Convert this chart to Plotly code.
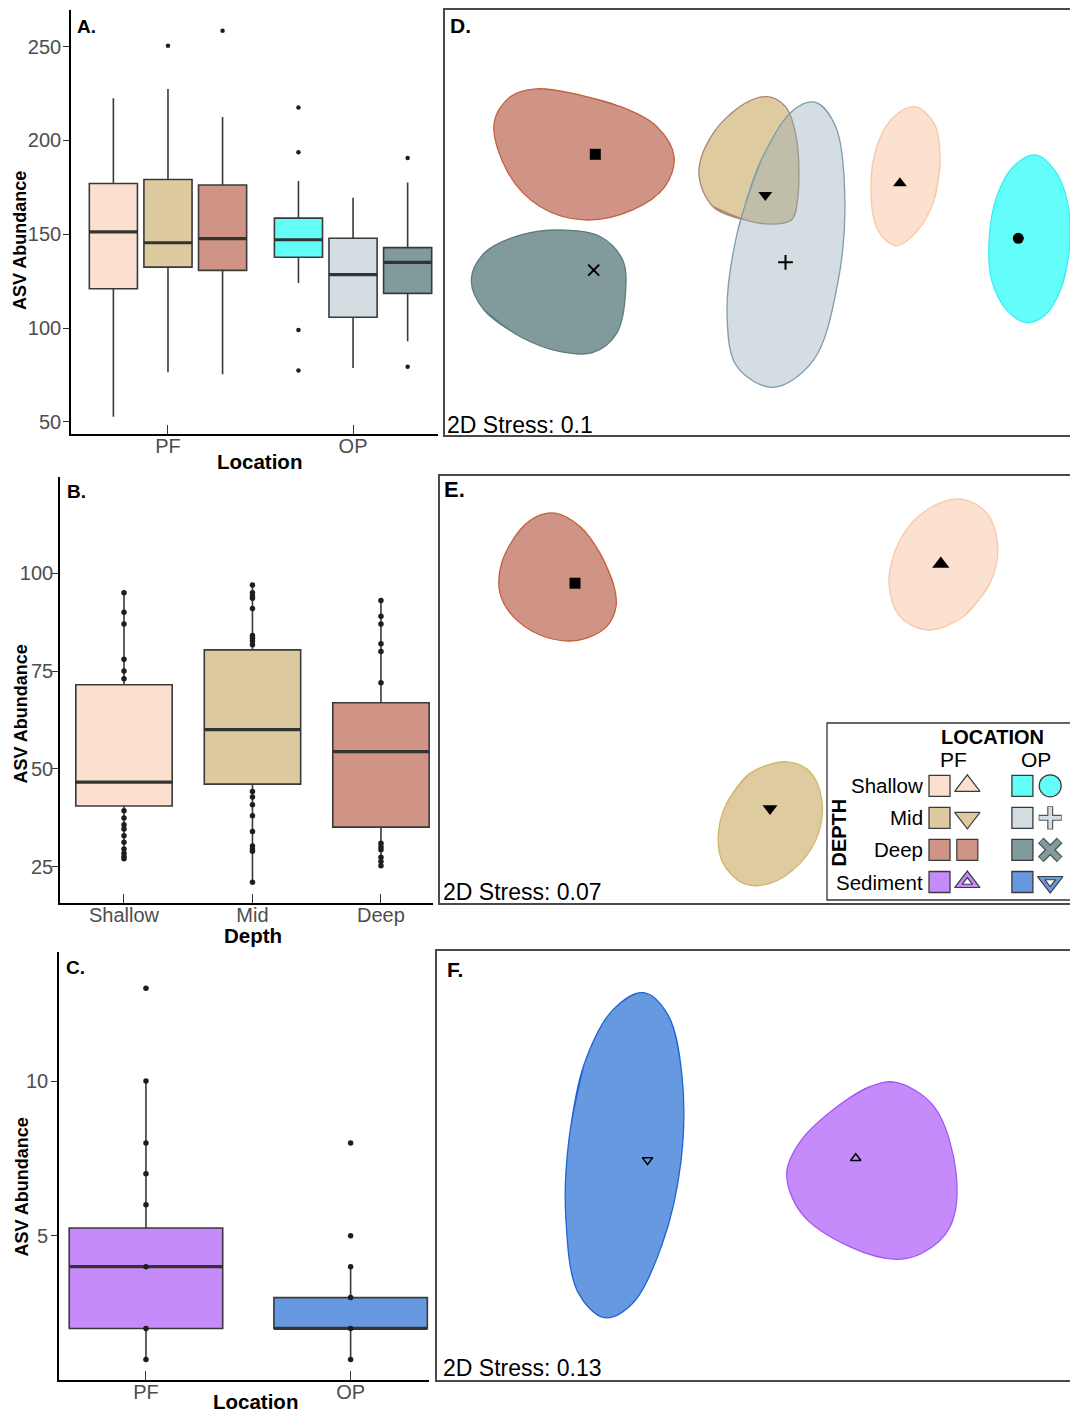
import math
import plotly.graph_objects as go

W, H = 1070, 1412
FONT = "Liberation Sans, Arial, Helvetica, sans-serif"
TICK_GREY = "#4d4d4d"
BOX_LINE = "#3a3a3a"
FRAME = "#4a4a4a"

# ---------------- Panel A: ASV abundance by location and depth ----------------
A_LOCATIONS = ["PF", "OP"]
A_DEPTHS = ["Shallow", "Mid", "Deep"]
A_GROUP_LOCATION = ["PF", "PF", "PF", "OP", "OP", "OP"]
A_GROUP_DEPTH = ["Shallow", "Mid", "Deep", "Shallow", "Mid", "Deep"]
A_LOWER = [52.8, 76.5, 75.4, 124.1, 78.8, 93.0]
A_Q1 = [121.0, 132.5, 130.8, 137.8, 105.8, 118.5]
A_MEDIAN = [151.3, 145.5, 147.7, 147.1, 128.5, 135.0]
A_Q3 = [177.1, 179.2, 176.3, 158.6, 147.9, 142.9]
A_UPPER = [222.5, 227.4, 212.5, 178.4, 169.5, 177.6]
A_OUTLIERS = [[], [250.5], [258.4], [217.6, 193.7, 99.0, 77.4], [], [190.7, 79.4]]
A_FILLS = ["#FBE0CF", "#DDCB9F", "#CF9486", "#63FDF8", "#D3DDE2", "#819A9C"]

# ---------------- Panel B: ASV abundance by depth ----------------
B_DEPTHS = ["Shallow", "Mid", "Deep"]
B_LOWER = [27.0, 21.0, 25.2]
B_Q1 = [40.5, 46.1, 35.1]
B_MEDIAN = [46.6, 60.0, 54.4]
B_Q3 = [71.5, 80.4, 66.9]
B_UPPER = [95.0, 97.0, 93.0]
B_POINTS_SHALLOW = [95, 90, 87, 78, 75, 73, 39.3, 37.4, 35.7, 34.6, 32.9, 31.2, 29.5, 28.4, 27.6, 27.0]
B_POINTS_MID = [97, 95, 94.2, 93.6, 91, 84.1, 83.4, 82.7, 81.7, 44.2, 42.8, 40.8, 38, 34, 30.3, 29.5, 28.9, 21]
B_POINTS_DEEP = [93, 89, 87, 82, 80, 72, 31, 30.1, 29.3, 27.4, 26.3, 25.2]
B_FILLS = ["#FBE0CF", "#DDCB9F", "#CF9486"]

# ---------------- Panel C: sediment ASV abundance by location ----------------
C_LOCATIONS = ["PF", "OP"]
C_LOWER = [1, 1]
C_Q1 = [2, 2]
C_MEDIAN = [4, 2]
C_Q3 = [5.25, 3]
C_UPPER = [10, 4]
C_POINTS_PF = [13, 10, 8, 7, 6, 4, 2, 1]
C_POINTS_OP = [8, 5, 4, 3, 2, 1]
C_FILLS = ["#C58BFA", "#6699E0"]

# ---------------- Panel D: NMDS, water column (both locations) ----------------
D_DEEP_PF_X = [-1.317, -1.236, -1.106, -0.925, -0.684, -0.503, -0.417, -0.463, -0.624, -0.865, -1.086, -1.246]
D_DEEP_PF_Y = [0.496, 0.629, 0.668, 0.646, 0.579, 0.479, 0.329, 0.179, 0.063, 0.013, 0.079, 0.246]
D_DEEP_OP_X = [-1.431, -1.367, -1.186, -0.965, -0.785, -0.674, -0.660, -0.704, -0.825, -0.985, -1.186, -1.367]
D_DEEP_OP_Y = [-0.288, -0.154, -0.063, -0.038, -0.071, -0.188, -0.354, -0.554, -0.651, -0.646, -0.571, -0.438]
D_MID_PF_X = [-0.293, -0.222, -0.062, 0.049, 0.140, 0.196, 0.200, 0.170, 0.059, -0.062, -0.222]
D_MID_PF_Y = [0.246, 0.446, 0.596, 0.629, 0.579, 0.413, 0.113, 0.013, -0.008, 0.013, 0.079]
D_MID_OP_X = [0.290, 0.391, 0.437, 0.401, 0.280, 0.079, -0.102, -0.152, -0.102, 0.019, 0.180]
D_MID_OP_Y = [0.601, 0.479, 0.113, -0.304, -0.688, -0.824, -0.721, -0.471, -0.054, 0.313, 0.563]
D_SHALLOW_PF_X = [0.786, 0.883, 0.913, 0.883, 0.802, 0.692, 0.602, 0.567, 0.602, 0.682]
D_SHALLOW_PF_Y = [0.579, 0.496, 0.313, 0.113, -0.038, -0.116, -0.038, 0.179, 0.396, 0.529]
D_SHALLOW_OP_X = [1.388, 1.496, 1.554, 1.559, 1.521, 1.438, 1.346, 1.246, 1.171, 1.158, 1.196, 1.279]
D_SHALLOW_OP_Y = [0.338, 0.246, 0.079, -0.138, -0.321, -0.463, -0.501, -0.438, -0.288, -0.088, 0.129, 0.279]
D_CENTROID_X = [-0.811, -0.819, 0.039, 0.140, 0.712, 1.304]
D_CENTROID_Y = [0.341, -0.238, 0.138, -0.199, 0.196, -0.079]
D_STRESS = 0.1

# ---------------- Panel E: NMDS, PF water column ----------------
E_DEEP_PF_X = [-1.000, -0.875, -0.775, -0.709, -0.695, -0.742, -0.842, -0.934, -1.075, -1.209, -1.275, -1.267, -1.175, -1.092]
E_DEEP_PF_Y = [0.879, 0.812, 0.679, 0.529, 0.412, 0.312, 0.254, 0.240, 0.270, 0.362, 0.479, 0.629, 0.795, 0.862]
E_MID_PF_X = [0.159, 0.275, 0.334, 0.317, 0.225, 0.075, -0.059, -0.159, -0.184, -0.142, -0.025]
E_MID_PF_Y = [-0.364, -0.414, -0.555, -0.722, -0.872, -0.972, -0.972, -0.872, -0.739, -0.572, -0.422]
E_SHALLOW_PF_X = [1.025, 1.159, 1.214, 1.175, 1.042, 0.867, 0.725, 0.670, 0.725, 0.859]
E_SHALLOW_PF_Y = [0.950, 0.879, 0.712, 0.529, 0.362, 0.295, 0.362, 0.529, 0.745, 0.895]
E_CENTROID_X = [-0.900, 0.075, 0.929]
E_CENTROID_Y = [0.529, -0.597, 0.625]
E_STRESS = 0.07

# ---------------- Panel F: NMDS, sediment ----------------
F_SED_OP_X = [-0.550, -0.428, -0.358, -0.363, -0.458, -0.604, -0.744, -0.878, -0.939, -0.923, -0.848, -0.703]
F_SED_OP_Y = [0.864, 0.753, 0.453, 0.018, -0.398, -0.689, -0.761, -0.633, -0.248, 0.128, 0.503, 0.778]
F_SED_PF_X = [0.712, 0.903, 1.013, 0.983, 0.842, 0.712, 0.481, 0.240, 0.166, 0.240, 0.441, 0.581]
F_SED_PF_Y = [0.416, 0.294, -0.039, -0.306, -0.439, -0.469, -0.406, -0.239, -0.039, 0.128, 0.311, 0.394]
F_CENTROID_X = [-0.530, 0.511]
F_CENTROID_Y = [0.028, 0.036]
F_STRESS = 0.13

# ---------------- Shared legend (depth x location) ----------------
LEGEND_DEPTHS = ["Shallow", "Mid", "Deep", "Sediment"]
LEGEND_LOCATIONS = ["PF", "OP"]
LEGEND_PF_FILLS = ["#FBE0CF", "#DDCB9F", "#CF9486", "#C58BFA"]
LEGEND_OP_FILLS = ["#63FDF8", "#D3DDE2", "#819A9C", "#6699E0"]


def dom_x(left, right):
    return [left / W, min(right / W, 1.0)]


def dom_y(top, bottom):
    return [1 - bottom / H, 1 - top / H]


fig = go.Figure()

# ---------- A ----------
A_DODGE = 0.295
A_BOX_W = 0.26
a_pos = []
for i in range(len(A_Q1)):
    loc_i = A_LOCATIONS.index(A_GROUP_LOCATION[i]) + 1
    dep_i = A_DEPTHS.index(A_GROUP_DEPTH[i])
    a_pos.append(loc_i + (dep_i - 1) * A_DODGE)


def add_boxes(pos, lower, q1, med, q3, upper, fills, width, xa, ya):
    for i in range(len(pos)):
        fig.add_trace(go.Box(
            x=[pos[i]], q1=[q1[i]], median=[med[i]], q3=[q3[i]],
            lowerfence=[lower[i]], upperfence=[upper[i]],
            width=width, fillcolor=fills[i],
            line=dict(color=BOX_LINE, width=1.6), whiskerwidth=0,
            boxpoints=False, xaxis=xa, yaxis=ya, hoverinfo="skip"))
    mx, my = [], []
    for i in range(len(pos)):
        mx += [pos[i] - width / 2, pos[i] + width / 2, None]
        my += [med[i], med[i], None]
    fig.add_trace(go.Scatter(x=mx, y=my, mode="lines",
                             line=dict(color="#333333", width=3.2),
                             xaxis=xa, yaxis=ya, hoverinfo="skip"))


def add_points(pos, values, size, xa, ya):
    px, py = [], []
    for p, vals in zip(pos, values):
        px += [p] * len(vals)
        py += list(vals)
    fig.add_trace(go.Scatter(x=px, y=py, mode="markers",
                             marker=dict(color="#1e1e1e", size=size, opacity=1),
                             xaxis=xa, yaxis=ya, hoverinfo="skip"))


add_boxes(a_pos, A_LOWER, A_Q1, A_MEDIAN, A_Q3, A_UPPER, A_FILLS, A_BOX_W, "x", "y")
add_points(a_pos, A_OUTLIERS, 4.5, "x", "y")

# ---------- B ----------
b_pos = [i + 1 for i in range(len(B_DEPTHS))]
B_BOX_W = 0.75
add_boxes(b_pos, B_LOWER, B_Q1, B_MEDIAN, B_Q3, B_UPPER, B_FILLS, B_BOX_W, "x2", "y2")
add_points(b_pos, [B_POINTS_SHALLOW, B_POINTS_MID, B_POINTS_DEEP], 5.5, "x2", "y2")

# ---------- C ----------
c_pos = [i + 1 for i in range(len(C_LOCATIONS))]
C_BOX_W = 0.75
add_boxes(c_pos, C_LOWER, C_Q1, C_MEDIAN, C_Q3, C_UPPER, C_FILLS, C_BOX_W, "x3", "y3")
add_points(c_pos, [C_POINTS_PF, C_POINTS_OP], 5.5, "x3", "y3")


# ---------- NMDS group envelopes ----------
def flattest_start(xs, ys):
    """Rotate a closed outline so it starts where it bends least."""
    n = len(xs)
    best_i, best_turn = 0, None
    for i in range(n):
        ax, ay = xs[i] - xs[i - 1], ys[i] - ys[i - 1]
        bx, by = xs[(i + 1) % n] - xs[i], ys[(i + 1) % n] - ys[i]
        turn = abs(math.atan2(ax * by - ay * bx, ax * bx + ay * by))
        if best_turn is None or turn < best_turn:
            best_i, best_turn = i, turn
    return list(xs[best_i:]) + list(xs[:best_i]), list(ys[best_i:]) + list(ys[:best_i])


def add_hull(xs, ys, fill, edge, xa, ya):
    xs, ys = flattest_start(xs, ys)
    cx = xs + [xs[0], xs[1]]
    cy = ys + [ys[0], ys[1]]
    fig.add_trace(go.Scatter(x=cx, y=cy, mode="lines",
                             line=dict(shape="spline", smoothing=1.0, color=edge, width=1.3),
                             fill="toself", fillcolor=fill,
                             xaxis=xa, yaxis=ya, hoverinfo="skip"))


add_hull(D_DEEP_PF_X, D_DEEP_PF_Y, "#CF9486", "#C2613F", "x4", "y4")
add_hull(D_DEEP_OP_X, D_DEEP_OP_Y, "#819A9C", "#5E7C7F", "x4", "y4")
add_hull(D_MID_PF_X, D_MID_PF_Y, "rgba(172,125,15,0.4)", "#A98576", "x4", "y4")
add_hull(D_MID_OP_X, D_MID_OP_Y, "rgba(148,170,183,0.4)", "#7E9CAE", "x4", "y4")
add_hull(D_SHALLOW_PF_X, D_SHALLOW_PF_Y, "#FCE1D0", "#F8C7A3", "x4", "y4")
add_hull(D_SHALLOW_OP_X, D_SHALLOW_OP_Y, "#63FEF9", "#38EEF4", "x4", "y4")
fig.add_trace(go.Scatter(
    x=D_CENTROID_X, y=D_CENTROID_Y, mode="markers",
    marker=dict(symbol=["square", "x-thin", "triangle-down", "cross-thin", "triangle-up", "circle"],
                size=[11, 11, 12, 10.5, 12, 11], color="black", opacity=1,
                line=dict(color="black", width=[0, 2, 0, 2, 0, 0])),
    xaxis="x4", yaxis="y4", hoverinfo="skip"))

add_hull(E_DEEP_PF_X, E_DEEP_PF_Y, "#CF9486", "#C2613F", "x5", "y5")
add_hull(E_MID_PF_X, E_MID_PF_Y, "#DECB9F", "#D5B46D", "x5", "y5")
add_hull(E_SHALLOW_PF_X, E_SHALLOW_PF_Y, "#FCE1D0", "#F8C9A6", "x5", "y5")
fig.add_trace(go.Scatter(
    x=E_CENTROID_X, y=E_CENTROID_Y, mode="markers",
    marker=dict(symbol=["square", "triangle-down", "triangle-up"], size=[11, 13, 15],
                color="black", opacity=1, line=dict(width=0)),
    xaxis="x5", yaxis="y5", hoverinfo="skip"))

add_hull(F_SED_OP_X, F_SED_OP_Y, "#6699E0", "#1F63D6", "x6", "y6")
add_hull(F_SED_PF_X, F_SED_PF_Y, "#C58BFA", "#A257F3", "x6", "y6")
fig.add_trace(go.Scatter(
    x=F_CENTROID_X, y=F_CENTROID_Y, mode="markers",
    marker=dict(symbol=["triangle-down-open", "triangle-up-open"], size=9, color="black",
                opacity=1, line=dict(color="black", width=1.5)),
    xaxis="x6", yaxis="y6", hoverinfo="skip"))

# ---------- Legend swatches (rows = depth, columns = location) ----------
LEG_COL = [0.0, 3.07]      # first swatch of each location
LEG_SYM = 1.03             # offset of the symbol next to each square
rows = list(range(len(LEGEND_DEPTHS)))
edge = "#3a3a3a"
for j, fills in enumerate([LEGEND_PF_FILLS, LEGEND_OP_FILLS]):
    fig.add_trace(go.Scatter(
        x=[LEG_COL[j]] * len(rows), y=rows, mode="markers",
        marker=dict(symbol="square", size=21, color=fills, opacity=1,
                    line=dict(color=edge, width=1.3)),
        xaxis="x7", yaxis="y7", hoverinfo="skip"))

sx_pf = LEG_COL[0] + LEG_SYM
sx_op = LEG_COL[1] + LEG_SYM
# PF symbols
fig.add_trace(go.Scatter(
    x=[sx_pf] * 4, y=rows, mode="markers",
    marker=dict(symbol=["triangle-up", "triangle-down", "square", "triangle-up"],
                size=[22, 22, 21, 22], color=LEGEND_PF_FILLS, opacity=1,
                line=dict(color=edge, width=1.2)),
    xaxis="x7", yaxis="y7", hoverinfo="skip"))
fig.add_trace(go.Scatter(
    x=[sx_pf], y=[rows[3]], mode="markers",
    marker=dict(symbol="triangle-up", size=9, color="white", opacity=1,
                line=dict(color=edge, width=1.2)),
    xaxis="x7", yaxis="y7", hoverinfo="skip"))
# OP symbols
fig.add_trace(go.Scatter(
    x=[sx_op, sx_op], y=[rows[0], rows[3]], mode="markers",
    marker=dict(symbol=["circle", "triangle-down"], size=[22, 22], opacity=1,
                color=[LEGEND_OP_FILLS[0], LEGEND_OP_FILLS[3]], line=dict(color=edge, width=1.2)),
    xaxis="x7", yaxis="y7", hoverinfo="skip"))
fig.add_trace(go.Scatter(
    x=[sx_op], y=[rows[3]], mode="markers",
    marker=dict(symbol="triangle-down", size=9, color="white", opacity=1,
                line=dict(color=edge, width=1.2)),
    xaxis="x7", yaxis="y7", hoverinfo="skip"))
fig.add_trace(go.Scatter(
    x=[sx_op, sx_op], y=[rows[1], rows[2]], mode="markers",
    marker=dict(symbol=["cross-thin", "x-thin"], size=[16.5, 19], color=edge, opacity=1,
                line=dict(color="#555555", width=[6, 8])),
    xaxis="x7", yaxis="y7", hoverinfo="skip"))
fig.add_trace(go.Scatter(
    x=[sx_op, sx_op], y=[rows[1], rows[2]], mode="markers",
    marker=dict(symbol=["cross-thin", "x-thin"], size=[15.5, 18], opacity=1,
                color=[LEGEND_OP_FILLS[1], LEGEND_OP_FILLS[2]],
                line=dict(color=[LEGEND_OP_FILLS[1], LEGEND_OP_FILLS[2]], width=[3.6, 5.4])),
    xaxis="x7", yaxis="y7", hoverinfo="skip"))

# ---------- Axes ----------
tickfont = dict(family=FONT, size=20, color=TICK_GREY)
box_x = dict(showline=True, linecolor="black", linewidth=1.6, ticks="inside", ticklen=9,
             tickwidth=1.4, tickcolor="#333333", showgrid=False, zeroline=False, tickfont=tickfont,
             ticklabelstandoff=-7)
box_y = dict(showline=True, linecolor="black", linewidth=1.6, ticks="outside", ticklen=6,
             tickwidth=1.4, tickcolor="#333333", showgrid=False, zeroline=False, tickfont=tickfont)
frame = dict(showline=True, mirror=True, linecolor=FRAME, linewidth=1.6, showticklabels=False,
             ticks="", showgrid=False, zeroline=False)

fig.update_layout(
    xaxis=dict(box_x, domain=dom_x(71, 438), range=[0.476, 2.459], anchor="y",
               tickvals=[1, 2], ticktext=A_LOCATIONS),
    yaxis=dict(box_y, domain=dom_y(10, 434), range=[43.6, 269.5], anchor="x",
               tickvals=[50, 100, 150, 200, 250], ticklabelstandoff=-2),
    xaxis2=dict(box_x, domain=dom_x(60, 433), range=[0.502, 3.405], anchor="y2",
                tickvals=b_pos, ticktext=B_DEPTHS),
    yaxis2=dict(box_y, domain=dom_y(477, 903), range=[15.7, 124.6], anchor="x2",
                tickvals=[25, 50, 75, 100], ticklabelstandoff=-5),
    xaxis3=dict(box_x, domain=dom_x(59, 429), range=[0.575, 2.383], anchor="y3",
                tickvals=c_pos, ticktext=C_LOCATIONS),
    yaxis3=dict(box_y, domain=dom_y(952, 1380), range=[0.336, 14.17], anchor="x3",
                tickvals=[5, 10], ticklabelstandoff=-1),
    xaxis4=dict(frame, domain=dom_x(445, 1070), range=[-1.5625, 1.5625], anchor="y4"),
    yaxis4=dict(frame, domain=dom_y(10, 435), range=[-1.0625, 1.0625], anchor="x4"),
    xaxis5=dict(frame, domain=dom_x(440, 1070), range=[-1.575, 1.575], anchor="y5"),
    yaxis5=dict(frame, domain=dom_y(476, 903), range=[-1.07, 1.065], anchor="x5"),
    xaxis6=dict(frame, domain=dom_x(437, 1070), range=[-1.5825, 1.5825], anchor="y6"),
    yaxis6=dict(frame, domain=dom_y(951, 1380), range=[-1.0725, 1.0725], anchor="x6"),
    xaxis7=dict(visible=False, domain=dom_x(827, 1070), range=[-4.167, 4.833], anchor="y7"),
    yaxis7=dict(visible=False, domain=dom_y(723, 900), range=[3.561, -1.958], anchor="x7"),
)


def note(text, px, py, size, bold=False, angle=0, xanchor="center", yref="paper", y=None):
    return dict(text=f"<b>{text}</b>" if bold else text,
                x=px / W, xref="paper",
                y=(1 - py / H) if y is None else y, yref=yref,
                showarrow=False, textangle=angle, xanchor=xanchor, yanchor="middle",
                font=dict(family=FONT, size=size, color="black"))


annotations = [
    note("A.", 86, 27, 19, bold=True),
    note("B.", 76, 491, 19, bold=True),
    note("C.", 75, 967, 19, bold=True),
    note("D.", 460, 25, 21, bold=True),
    note("E.", 454, 490, 22, bold=True),
    note("F.", 455, 969, 21, bold=True),
    note("ASV Abundance", 20, 241, 18, bold=True, angle=-90),
    note("ASV Abundance", 20.5, 714, 18, bold=True, angle=-90),
    note("ASV Abundance", 21.5, 1187, 18, bold=True, angle=-90),
    note("Location", 259, 462, 20.5, bold=True),
    note("Depth", 252.5, 935, 20.5, bold=True),
    note("Location", 255, 1401, 20.5, bold=True),
    note(f"2D Stress: {D_STRESS}", 445, 425, 23, xanchor="left"),
    note(f"2D Stress: {E_STRESS}", 441, 892, 23, xanchor="left"),
    note(f"2D Stress: {F_STRESS}", 441, 1368, 23, xanchor="left"),
    note("LOCATION", 992, 737, 20, bold=True),
    note(LEGEND_LOCATIONS[0], 953, 759, 21),
    note(LEGEND_LOCATIONS[1], 1036, 759, 21),
    note("DEPTH", 838.5, 833, 20, bold=True, angle=-90),
]
for r, name in zip(rows, LEGEND_DEPTHS):
    annotations.append(note(name, 925, 0, 20.5, xanchor="right", yref="y7", y=r))

fig.update_layout(
    width=W, height=H,
    margin=dict(l=0, r=0, t=0, b=0),
    paper_bgcolor="white", plot_bgcolor="white",
    showlegend=False, template="none",
    font=dict(family=FONT),
    annotations=annotations,
    shapes=[dict(type="rect", xref="paper", yref="paper",
                 x0=827 / W, x1=1.05, y0=1 - 900 / H, y1=1 - 723 / H,
                 line=dict(color="#333333", width=1.3), fillcolor="rgba(0,0,0,0)", layer="above")],
)

fig.write_html("out.html")
